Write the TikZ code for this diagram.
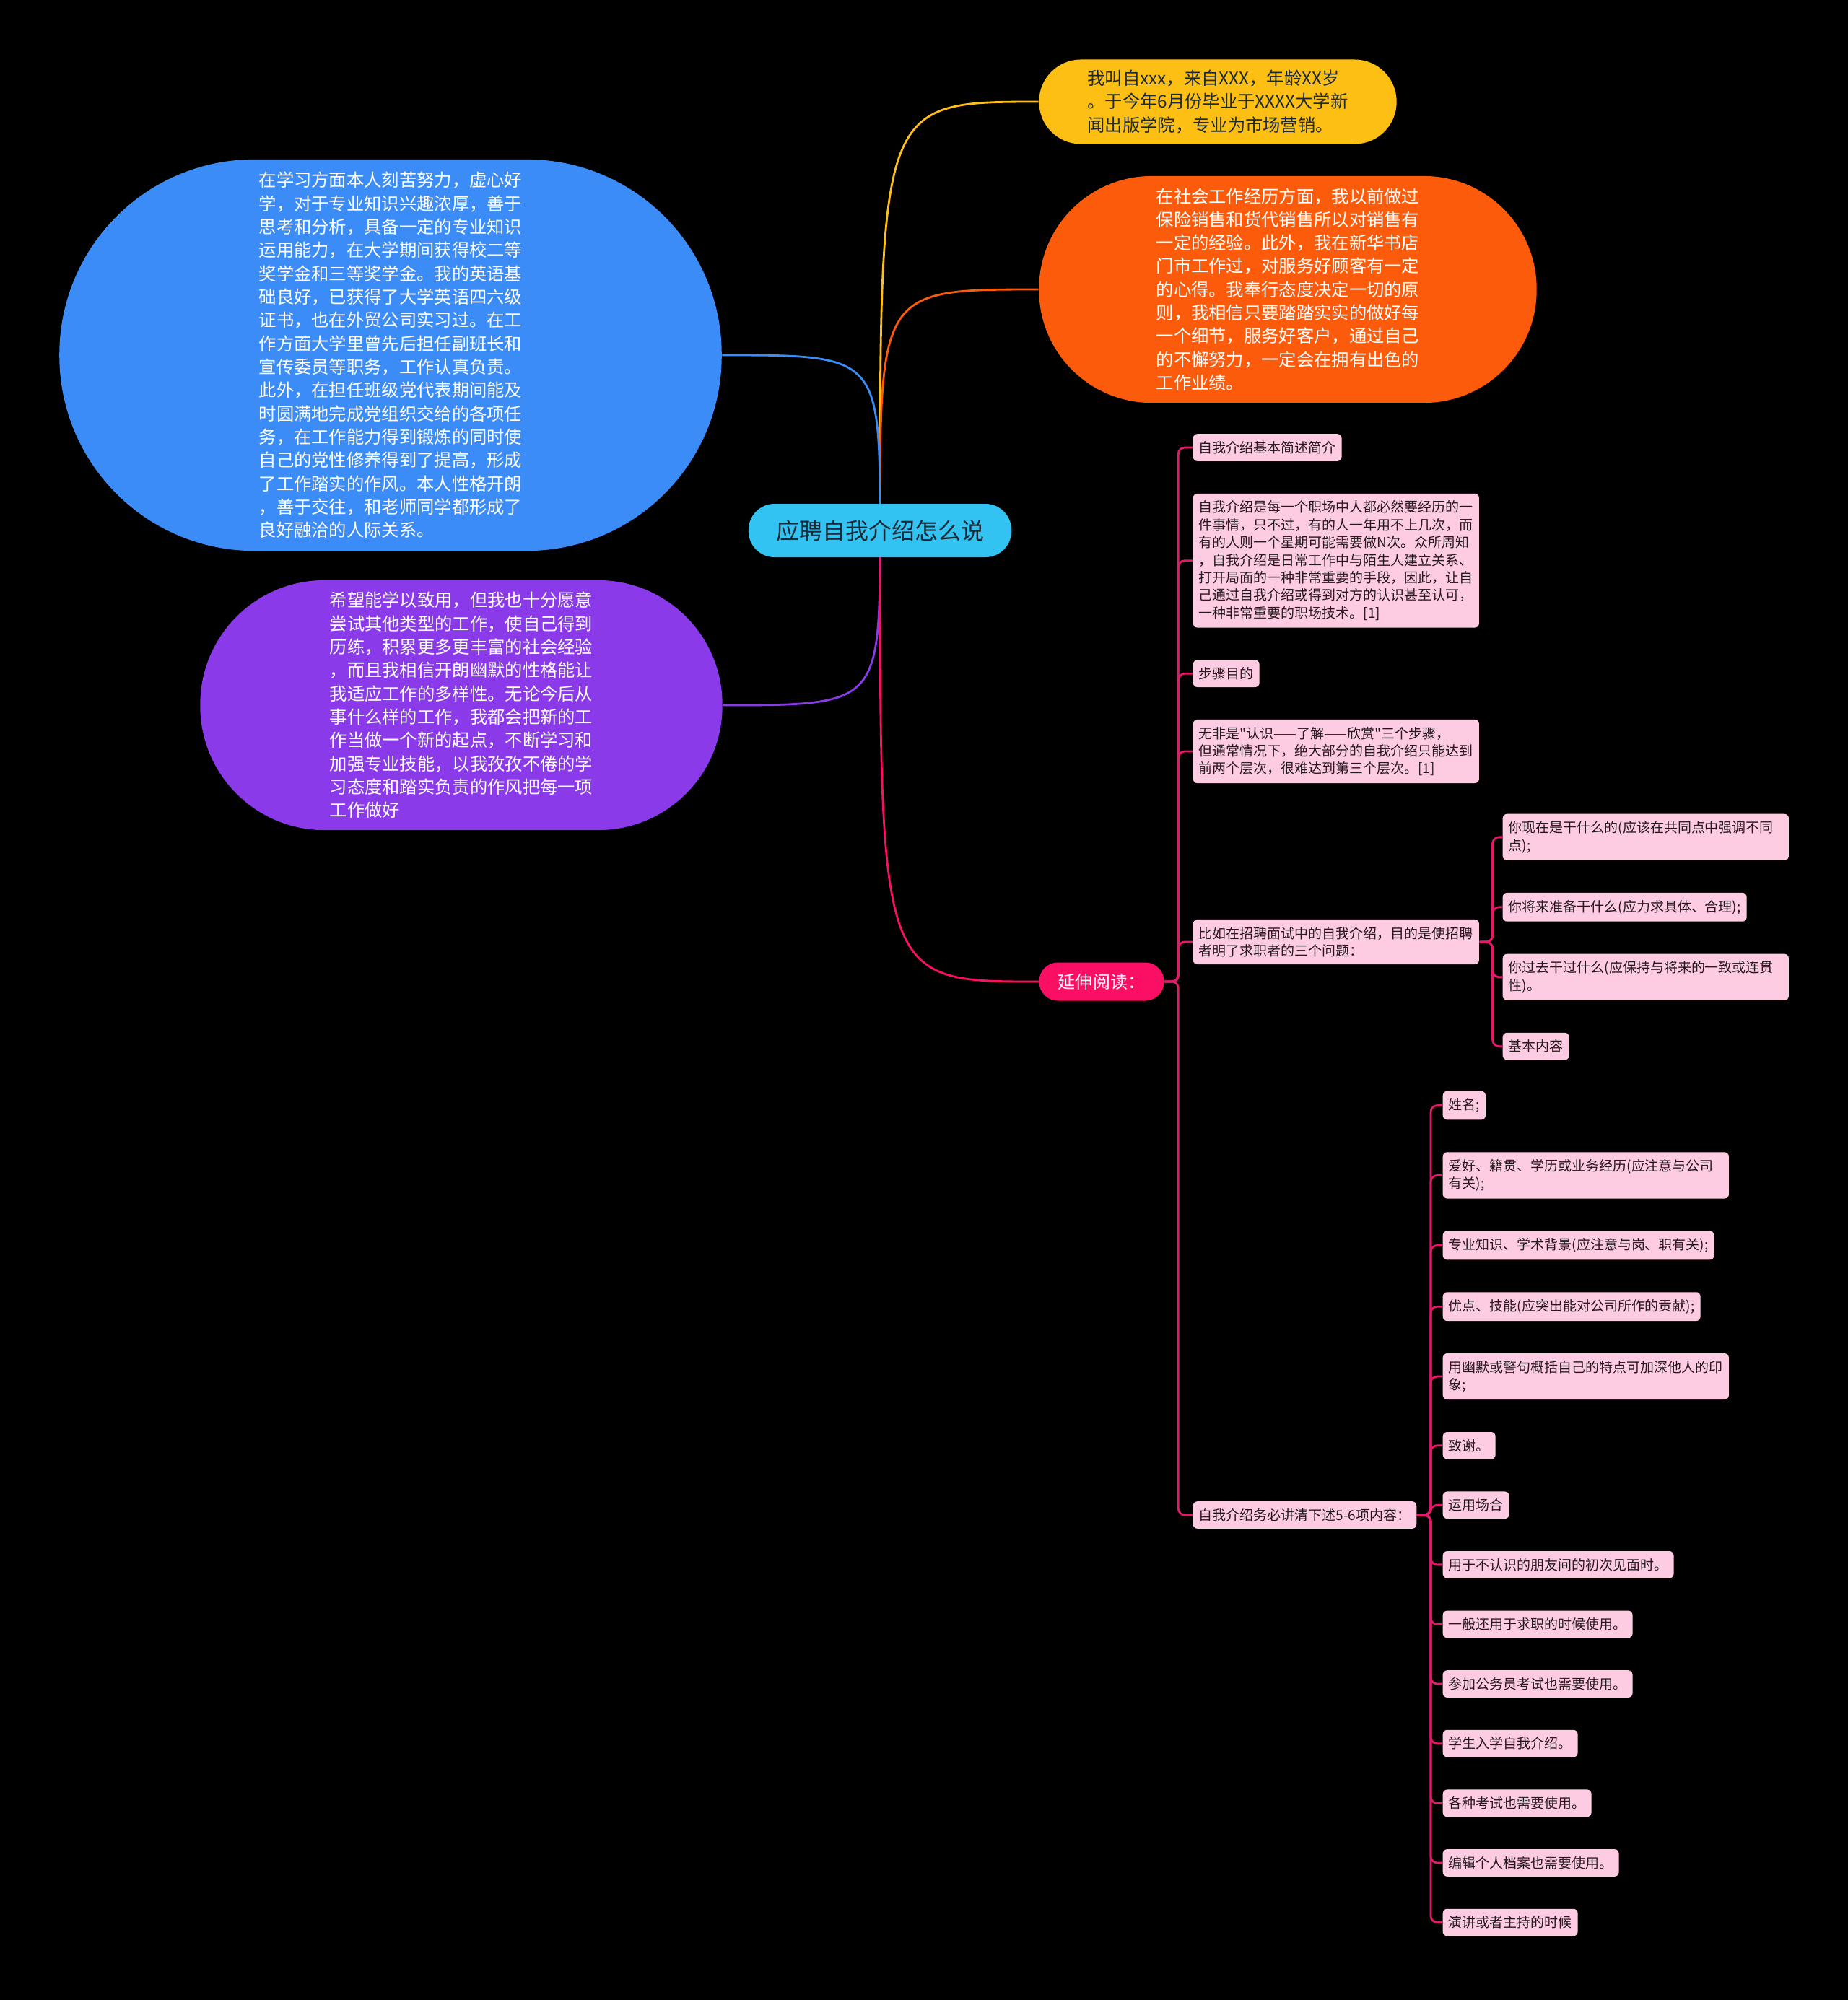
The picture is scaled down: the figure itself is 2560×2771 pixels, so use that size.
\documentclass[tikz,border=0pt]{standalone}
\usepackage{fontspec}
\setmainfont{Noto Sans CJK SC}[Ligatures=TeXOff]
\usetikzlibrary{positioning,backgrounds}

\definecolor{rootfill}{HTML}{33C3F2}
\definecolor{roottext}{HTML}{1B2A36}
\definecolor{yellowfill}{HTML}{FDBF14}
\definecolor{orangefill}{HTML}{FC5B0B}
\definecolor{bluefill}{HTML}{3C8CF8}
\definecolor{purplefill}{HTML}{8A3AE8}
\definecolor{readfill}{HTML}{FA0F64}
\definecolor{leaffill}{HTML}{FECCE2}
\definecolor{leaftext}{HTML}{261A20}
\definecolor{pinkline}{HTML}{E5186A}

\begin{document}
\begin{tikzpicture}[x=0.01cm, y=-0.01cm, node distance=0.435cm,
    bubble/.style={rectangle, align=left, inner sep=0pt},
    topic/.style={bubble, text=white, font=\fontsize{6.91pt}{9.19pt}\selectfont},
    leaf/.style={rectangle, fill=leaffill, rounded corners=0.06cm, align=left, inner xsep=0.08cm, inner ysep=0.1cm, text=leaftext, font=\fontsize{5.4pt}{6.94pt}\selectfont},
    wrap/.style={leaf, text width=3.8cm},
    link/.style={line width=0.8pt},
    twig/.style={link, draw=pinkline, rounded corners=0.09cm}]
    \useasboundingbox (0,0) rectangle (2560,2771);

    \node (Root) [bubble, fill=rootfill, text=roottext, minimum width=3.64cm, minimum height=0.74cm, rounded corners=0.36cm, font=\fontsize{9.1pt}{11pt}\selectfont] at (1219,735)
    {应聘自我介绍怎么说};

    \node (Yellow) [topic, text=roottext, fill=yellowfill, minimum width=4.95cm, minimum height=1.17cm, rounded corners=0.58cm] at (1687,141)
    {
        我叫自xxx，来自XXX，年龄XX岁\\
        。于今年6月份毕业于XXXX大学新\\
        闻出版学院，专业为市场营销。
    };
    \node (Orange) [topic, fill=orangefill, minimum width=6.89cm, minimum height=3.14cm, rounded corners=1.56cm] at (1784,401)
    {
        在社会工作经历方面，我以前做过\\
        保险销售和货代销售所以对销售有\\
        一定的经验。此外，我在新华书店\\
        门市工作过，对服务好顾客有一定\\
        的心得。我奉行态度决定一切的原\\
        则，我相信只要踏踏实实的做好每\\
        一个细节，服务好客户，通过自己\\
        的不懈努力，一定会在拥有出色的\\
        工作业绩。
    };
    \node (Blue) [topic, fill=bluefill, minimum width=9.17cm, minimum height=5.42cm, rounded corners=2.70cm] at (541,492)
    {
        在学习方面本人刻苦努力，虚心好\\
        学，对于专业知识兴趣浓厚，善于\\
        思考和分析，具备一定的专业知识\\
        运用能力，在大学期间获得校二等\\
        奖学金和三等奖学金。我的英语基\\
        础良好，已获得了大学英语四六级\\
        证书，也在外贸公司实习过。在工\\
        作方面大学里曾先后担任副班长和\\
        宣传委员等职务，工作认真负责。\\
        此外，在担任班级党代表期间能及\\
        时圆满地完成党组织交给的各项任\\
        务，在工作能力得到锻炼的同时使\\
        自己的党性修养得到了提高，形成\\
        了工作踏实的作风。本人性格开朗\\
        ，善于交往，和老师同学都形成了\\
        良好融洽的人际关系。
    };
    \node (Purple) [topic, fill=purplefill, minimum width=7.23cm, minimum height=3.46cm, rounded corners=1.72cm] at (639,977)
    {
        希望能学以致用，但我也十分愿意\\
        尝试其他类型的工作，使自己得到\\
        历练，积累更多更丰富的社会经验\\
        ，而且我相信开朗幽默的性格能让\\
        我适应工作的多样性。无论今后从\\
        事什么样的工作，我都会把新的工\\
        作当做一个新的起点，不断学习和\\
        加强专业技能，以我孜孜不倦的学\\
        习态度和踏实负责的作风把每一项\\
        工作做好
    };
    \node (Reading) [topic, fill=readfill, minimum width=1.73cm, minimum height=0.53cm, rounded corners=0.26cm, font=\fontsize{6.83pt}{8pt}\selectfont] at (1526,1360)
    {延伸阅读：};

    \node (Brief) [leaf, anchor=west] at (1652,620) {自我介绍基本简述简介};
    \node (Every) [wrap, below=of Brief.south west, anchor=north west]
    {
        自我介绍是每一个职场中人都必然要经历的一\\
        件事情，只不过，有的人一年用不上几次，而\\
        有的人则一个星期可能需要做N次。众所周知\\
        ，自我介绍是日常工作中与陌生人建立关系、\\
        打开局面的一种非常重要的手段，因此，让自\\
        己通过自我介绍或得到对方的认识甚至认可，\\
        一种非常重要的职场技术。[1]
    };
    \node (Step) [leaf, below=of Every.south west, anchor=north west] {步骤目的};
    \node (NotMore) [wrap, below=of Step.south west, anchor=north west]
    {
        无非是"认识——了解——欣赏"三个步骤，\\
        但通常情况下，绝大部分的自我介绍只能达到\\
        前两个层次，很难达到第三个层次。[1]
    };
    \node (Example) [wrap, anchor=west] at (1652,1305)
    {
        比如在招聘面试中的自我介绍，目的是使招聘\\
        者明了求职者的三个问题：
    };
    \node (MustSay) [leaf, anchor=west] at (1652,2099) {自我介绍务必讲清下述5-6项内容：};

    \node (Now) [wrap, anchor=north west] at (2081,1127)
    {
        你现在是干什么的(应该在共同点中强调不同\\
        点);
    };
    \node (Future) [leaf, below=of Now.south west, anchor=north west] {你将来准备干什么(应力求具体、合理);};
    \node (Past) [wrap, below=of Future.south west, anchor=north west]
    {
        你过去干过什么(应保持与将来的一致或连贯\\
        性)。
    };
    \node (Basic) [leaf, below=of Past.south west, anchor=north west] {基本内容};

    \node (Name) [leaf, anchor=north west] at (1998,1511) {姓名;};
    \node (Hobby) [wrap, below=of Name.south west, anchor=north west]
    {
        爱好、籍贯、学历或业务经历(应注意与公司\\
        有关);
    };
    \node (Major) [leaf, below=of Hobby.south west, anchor=north west] {专业知识、学术背景(应注意与岗、职有关);};
    \node (Merit) [leaf, below=of Major.south west, anchor=north west] {优点、技能(应突出能对公司所作的贡献);};
    \node (Humor) [wrap, below=of Merit.south west, anchor=north west]
    {
        用幽默或警句概括自己的特点可加深他人的印\\
        象;
    };
    \node (Thanks) [leaf, below=of Humor.south west, anchor=north west] {致谢。};
    \node (Occasion) [leaf, below=of Thanks.south west, anchor=north west] {运用场合};
    \node (Meet) [leaf, below=of Occasion.south west, anchor=north west] {用于不认识的朋友间的初次见面时。};
    \node (Job) [leaf, below=of Meet.south west, anchor=north west] {一般还用于求职的时候使用。};
    \node (Exam) [leaf, below=of Job.south west, anchor=north west] {参加公务员考试也需要使用。};
    \node (Enroll) [leaf, below=of Exam.south west, anchor=north west] {学生入学自我介绍。};
    \node (Tests) [leaf, below=of Enroll.south west, anchor=north west] {各种考试也需要使用。};
    \node (Archive) [leaf, below=of Tests.south west, anchor=north west] {编辑个人档案也需要使用。};
    \node (Speech) [leaf, below=of Archive.south west, anchor=north west] {演讲或者主持的时候};

    \begin{scope}[on background layer]
        \fill[black] (0,0) rectangle (2560,2771);
        \draw[link, draw=yellowfill] (Root.center) .. controls (Root.center |- Yellow.west) .. (Yellow.west);
        \draw[link, draw=orangefill] (Root.center) .. controls (Root.center |- Orange.west) .. (Orange.west);
        \draw[link, draw=bluefill] (Blue.east) .. controls (Root.center |- Blue.east) .. (Root.center);
        \draw[link, draw=purplefill] (Purple.east) .. controls (Root.center |- Purple.east) .. (Root.center);
        \draw[link, draw=readfill] (Root.center) .. controls (Root.center |- Reading.west) .. (Reading.west);
        \foreach \n in {Brief,Every,Step,NotMore,Example,MustSay}
            \draw[twig] (Reading.east) -- ++(19,0) |- (\n.west);
        \foreach \n in {Now,Future,Past,Basic}
            \draw[twig] (Example.east) -- ++(18,0) |- (\n.west);
        \foreach \n in {Name,Hobby,Major,Merit,Humor,Thanks,Occasion,Meet,Job,Exam,Enroll,Tests,Archive,Speech}
            \draw[twig] (MustSay.east) -- ++(19,0) |- (\n.west);
    \end{scope}
\end{tikzpicture}
\end{document}
